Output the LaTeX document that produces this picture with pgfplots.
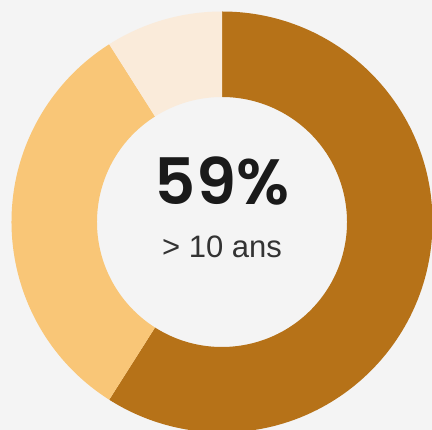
\documentclass[border=0pt]{standalone}
\usepackage{pgfplots}
\pgfplotsset{compat=1.18}
\usepackage{pgfplotstable}
\usepackage{fontspec}
\setmainfont{Liberation Sans}
\newfontfamily\numfont{Poppins SemiBold}
\definecolor{bgc}{HTML}{F4F4F4}
\definecolor{darkb}{HTML}{B67218}
\definecolor{lightb}{HTML}{F9C677}
\definecolor{paleb}{HTML}{FAEBDA}
\definecolor{txt}{HTML}{1A1A1A}
\definecolor{subtxt}{HTML}{333333}
\pgfplotstableread{
share
59
32
9
}\donut
\begin{document}
\begin{tikzpicture}
\pgfplotstablegetelem{0}{share}\of\donut \pgfmathsetmacro\sA{\pgfplotsretval}
\pgfplotstablegetelem{1}{share}\of\donut \pgfmathsetmacro\sB{\pgfplotsretval}
\pgfplotstablegetelem{2}{share}\of\donut \pgfmathsetmacro\sC{\pgfplotsretval}
\pgfmathsetmacro\aA{90}
\pgfmathsetmacro\aB{90-3.6*\sA}
\pgfmathsetmacro\aC{\aB-3.6*\sB}
\pgfmathsetmacro\aD{\aC-3.6*\sC}
\def\Ro{210.5pt}
\def\Ri{125pt}
\begin{axis}[name=ax, x=1pt, y=1pt, xmin=-222, xmax=210, ymin=-208, ymax=222,
  axis lines=none, ticks=none, clip=true]
\fill[bgc] (axis cs:-222,-208) rectangle (axis cs:210,222);
\coordinate (O) at (axis cs:0,0);
\fill[darkb] ([shift={(\aA:\Ro)}]O) arc[start angle=\aA, end angle=\aB, radius=\Ro]
  -- ([shift={(\aB:\Ri)}]O) arc[start angle=\aB, end angle=\aA, radius=\Ri] -- cycle;
\fill[lightb] ([shift={(\aB:\Ro)}]O) arc[start angle=\aB, end angle=\aC, radius=\Ro]
  -- ([shift={(\aC:\Ri)}]O) arc[start angle=\aC, end angle=\aB, radius=\Ri] -- cycle;
\fill[paleb] ([shift={(\aC:\Ro)}]O) arc[start angle=\aC, end angle=\aD, radius=\Ro]
  -- ([shift={(\aD:\Ri)}]O) arc[start angle=\aD, end angle=\aC, radius=\Ri] -- cycle;
\node[anchor=base, text=txt, inner sep=0pt] at (axis cs:0,17)
  {\numfont\fontsize{64}{64}\selectfont 59\%};
\node[anchor=base, text=subtxt, inner sep=0pt] at (axis cs:0,-36)
  {\fontsize{31}{31}\selectfont > 10 ans};
\end{axis}
\pgfresetboundingbox
\path[use as bounding box] (ax.south west) rectangle (ax.north east);
\end{tikzpicture}
\end{document}
